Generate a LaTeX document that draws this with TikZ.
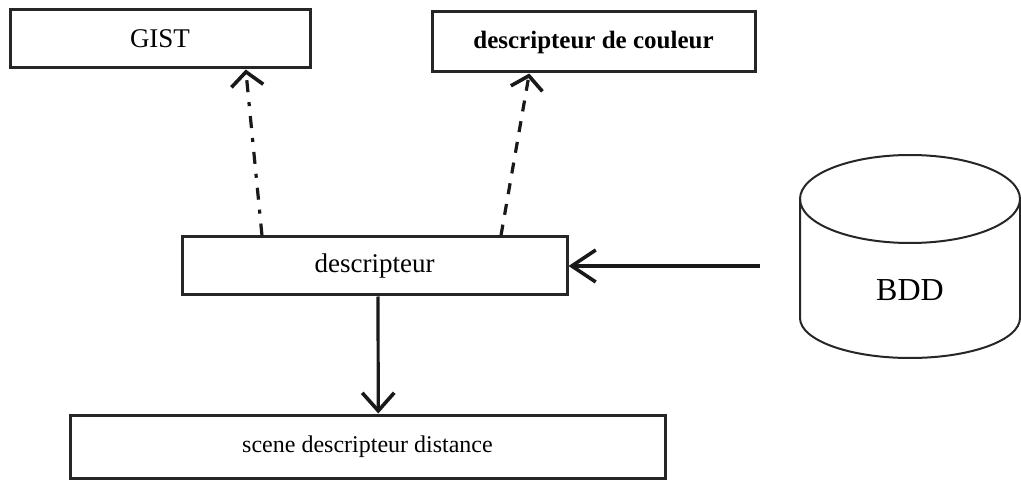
\documentclass[tikz,border=0pt]{standalone}
\usepackage{fontspec}
\setmainfont{Liberation Serif}
\usetikzlibrary{arrows.meta,calc}
\begin{document}
\begin{tikzpicture}[x=1pt,y=1pt,
  box/.style={draw=black!85, line width=3pt, rectangle, inner sep=0pt,
              font=\fontsize{27}{30}\selectfont},
  vee/.style={-{Straight Barb[length=#1pt,width=32pt,line width=3.6pt]}},
  link/.style={draw=black!90, line width=3.2pt}
]
\useasboundingbox (0,0) rectangle (1021,480);

% boxes
\node[box, minimum width=300pt, minimum height=58pt] (gist) at (160,441) {GIST};
\node[box, minimum width=323pt, minimum height=60pt, font=\fontsize{25}{30}\selectfont\bfseries]
  (coul) at (593.5,438) {descripteur de couleur};
\node[box, minimum width=385pt, minimum height=58pt] (desc) at (374.5,214) {descripteur};
\node[box, minimum width=595pt, minimum height=63pt, font=\fontsize{24}{28}\selectfont]
  (scene) at (367.5,33.5) {scene descripteur distance};

% database cylinder
\draw[line width=2pt, black!85] (800,281) -- (800,162)
  arc[start angle=180, end angle=360, x radius=110pt, y radius=40pt] -- (1020,281);
\draw[line width=2pt, black!85] (910,281) ellipse [x radius=110pt, y radius=44pt];
\node[font=\fontsize{32}{36}\selectfont] (bdd) at (910,190) {BDD};

% connectors
\coordinate (bddin) at (760,214);
\draw[link, vee=14, dash pattern=on 12pt off 10pt on 4pt off 10pt]
  ($(desc.north west)!0.21!(desc.north east)$) -- ($(gist.south west)!0.783!(gist.south east)$);
\draw[link, vee=13, dash pattern=on 11pt off 10pt]
  ($(desc.north west)!0.826!(desc.north east)$) -- ($(coul.south west)!0.303!(coul.south east)$);
\draw[link, vee=18] ($(desc.south west)!0.509!(desc.south east)$) -- ($(scene.north west)!0.518!(scene.north east)$);
\draw[link, vee=24] (bddin) -- (desc.east);
\end{tikzpicture}
\end{document}
